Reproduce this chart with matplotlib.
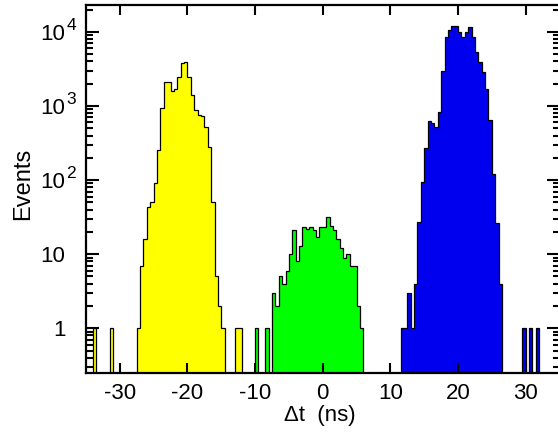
import numpy as np
import matplotlib
matplotlib.use('Agg')
import matplotlib.pyplot as plt
import matplotlib.transforms as mtransforms
from matplotlib.ticker import LogLocator, NullFormatter, NullLocator

plt.rcParams['font.family'] = ['Liberation Sans', 'DejaVu Sans']
plt.rcParams['axes.unicode_minus'] = False

# binning of the time difference histogram (ns)
bin_width = 0.5
x_lo, x_hi = -35.0, 35.0

# yellow peak, first bin low edge at -27.5
yellow_start = -27.5
yellow_counts = [1, 7, 16, 44, 50, 92, 255, 930, 2090, 2090, 1600, 1700, 2490,
                 3770, 3890, 2490, 1400, 880, 760, 740, 526, 282, 51, 5, 2, 1]
yellow_single = [-34.0, -31.5, -13.0, -12.5]

# green peak
green_start = -7.5
green_counts = [3, 2, 5, 4, 6, 10, 21, 8, 13, 23, 22, 23, 21, 17, 23, 23, 32,
                24, 21, 16, 12, 9, 10, 7, 7, 2, 1]
green_single = [-10.0, -8.5]

# blue peak
blue_start = 11.5
blue_counts = [1, 1, 3, 1, 4, 27, 95, 269, 634, 585, 516, 838, 2967, 8620,
               10600, 12000, 12000, 10060, 8620, 10060, 11540, 8620, 5400,
               3960, 2900, 1680, 647, 121, 26, 4]
blue_single = [29.5, 30.5, 31.5]

xticks = [-30, -20, -10, 0, 10, 20, 30]
ytick_vals = [1, 10, 100, 1000, 10000]
ytick_base = ['1', '10', '10', '10', '10']
ytick_sup = ['', '', '2', '3', '4']

edges = np.arange(x_lo, x_hi + bin_width / 2, bin_width)


def make_hist(start, counts, single):
    h = np.zeros(len(edges) - 1)
    i0 = int(round((start - x_lo) / bin_width))
    h[i0:i0 + len(counts)] = counts
    for e in single:
        h[int(round((e - x_lo) / bin_width))] += 1
    return h


fig = plt.figure(figsize=(5.58, 4.33), dpi=100)
ax = fig.add_axes([86 / 558, 60 / 433, 473.5 / 558, 368 / 433])

floor = 1e-2
for start, counts, single, col in [(yellow_start, yellow_counts, yellow_single, '#ffff00'),
                                   (green_start, green_counts, green_single, '#00ff00'),
                                   (blue_start, blue_counts, blue_single, '#0000ee')]:
    h = make_hist(start, counts, single)
    hv = np.where(h > 0, h, floor)
    ax.stairs(hv, edges, baseline=floor, fill=True, color=col, lw=0)
    ax.stairs(hv, edges, baseline=floor, color='black', lw=0.9)

ax.set_yscale('log')
ax.set_xlim(x_lo, x_hi)
ax.set_ylim(0.249, 23100)

ax.set_xticks(xticks)
ax.xaxis.set_minor_locator(NullLocator())
ax.yaxis.set_major_locator(LogLocator(base=10, numticks=12))
ax.yaxis.set_minor_locator(LogLocator(base=10, subs=np.arange(2, 10), numticks=30))
ax.yaxis.set_minor_formatter(NullFormatter())

ax.tick_params(axis='x', which='major', direction='in', top=True, length=7.5,
               width=1.5, labelsize=16, pad=7)
ax.tick_params(axis='y', which='major', direction='in', right=True, length=9.5,
               width=1.5, labelleft=False)
ax.tick_params(axis='y', which='minor', direction='in', right=True, length=4.8,
               width=1.5)
for s in ax.spines.values():
    s.set_linewidth(1.6)

# y tick labels, ROOT style: base right aligned, exponent hanging out
ytrans = ax.get_yaxis_transform()
for v, base, sup in zip(ytick_vals, ytick_base, ytick_sup):
    tb = ytrans + mtransforms.ScaledTranslation(-0.205, -0.08, fig.dpi_scale_trans)
    ax.text(0, v, base, transform=tb, ha='right', va='baseline', fontsize=16)
    if sup:
        ts = ytrans + mtransforms.ScaledTranslation(-0.195, 0.02, fig.dpi_scale_trans)
        ax.text(0, v, sup, transform=ts, ha='left', va='baseline', fontsize=12.5)

fig.text(23.5 / 558, 1 - 184 / 433, 'Events', rotation=90, ha='center',
         va='center', fontsize=17)
fig.text(320 / 558, 1 - 421.5 / 433, 'Δt  (ns)', ha='center', va='baseline',
         fontsize=16)

fig.savefig('out.png', dpi=100)
